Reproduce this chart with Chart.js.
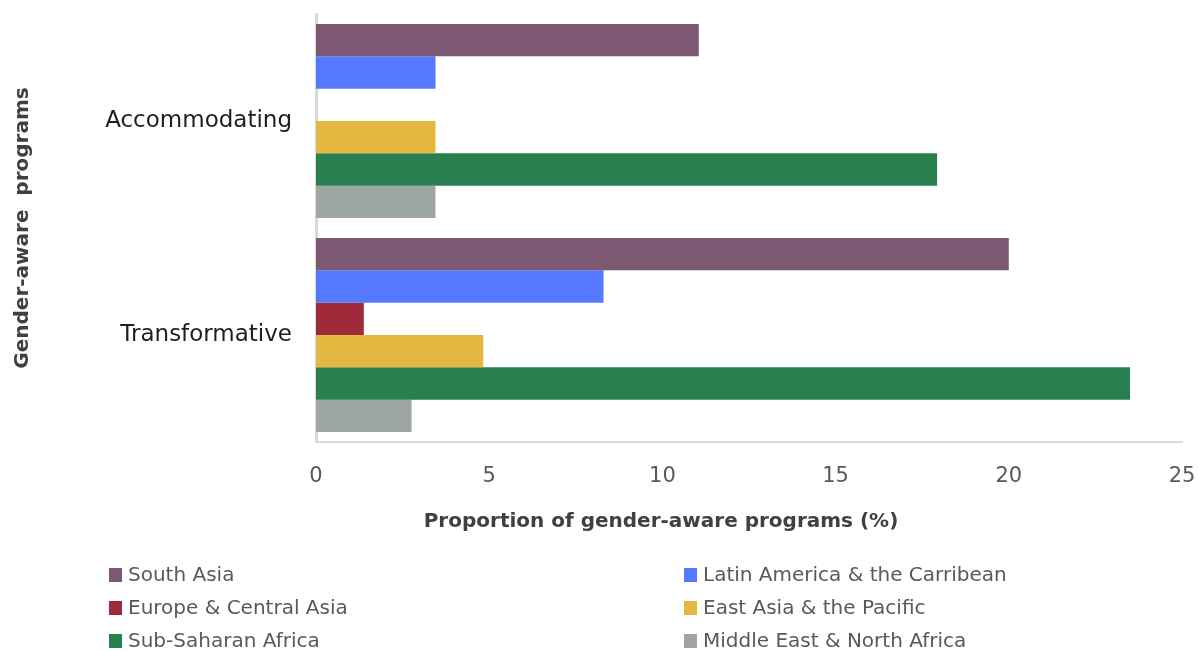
<!DOCTYPE html>
<html>
<head>
<meta charset="utf-8">
<script src="https://cdn.jsdelivr.net/npm/chart.js@4"></script>
<style>
	body { margin: 0; background: #fff; }
	#wrap { width: 1198px; height: 651px; }
</style>
</head>
<body>
<div id="wrap"><canvas id="myChart" width="1198" height="651"></canvas></div>
<script>
var categories = ['Accommodating', 'Transformative'];
var regions = ['South Asia', 'Latin America & the Carribean', 'Europe & Central Asia',
	'East Asia & the Pacific', 'Sub-Saharan Africa', 'Middle East & North Africa'];
var southAsia = [11.05, 20.0];
var latinAmerica = [3.45, 8.3];
var europeCentralAsia = [0, 1.38];
var eastAsiaPacific = [3.45, 4.83];
var subSaharanAfrica = [17.93, 23.5];
var middleEastNorthAfrica = [3.45, 2.76];
var xTicks = [0, 5, 10, 15, 20, 25];
var colors = ['#7d5873', '#5479fe', '#a0293a', '#e3b841', '#28804f', '#9ea6a4'];

var seriesValues = [southAsia, latinAmerica, europeCentralAsia, eastAsiaPacific, subSaharanAfrica, middleEastNorthAfrica];

// legend in two columns + x title off centre, drawn by hand
var extrasPlugin = {
	id: 'extras',
	afterDraw: function (chart) {
		var ctx = chart.ctx;
		ctx.save();
		ctx.font = '20px "DejaVu Sans"';
		ctx.textBaseline = 'middle';
		ctx.textAlign = 'left';
		chart.data.datasets.forEach(function (ds, i) {
			var col = i % 2;
			var row = Math.floor(i / 2);
			var sx = col === 0 ? 109 : 684;
			var y = 575 + row * 33;
			ctx.fillStyle = ds.backgroundColor;
			ctx.fillRect(sx, y - 7, 13, 14);
			ctx.fillStyle = '#595959';
			ctx.fillText(ds.label, sx + 19, y + 1);
		});
		ctx.font = 'bold 20px "DejaVu Sans"';
		ctx.fillStyle = '#404040';
		ctx.textAlign = 'center';
		ctx.fillText('Proportion of gender-aware programs (%)', 661, 522);
		ctx.restore();
	}
};

document.addEventListener("DOMContentLoaded", function (event) {
	var ctx = document.getElementById('myChart');
	var myChart = new Chart(ctx, {
		type: 'bar',
		data: {
			labels: categories,
			datasets: regions.map(function (name, i) {
				return {
					label: name,
					data: seriesValues[i],
					backgroundColor: colors[i],
					borderWidth: 0,
					categoryPercentage: 0.907,
					barPercentage: 1.0
				};
			})
		},
		options: {
			indexAxis: 'y',
			responsive: false,
			animation: false,
			layout: { padding: { top: 14, right: 16, left: 0, bottom: 0 } },
			plugins: {
				legend: { display: false },
				tooltip: { enabled: false }
			},
			scales: {
				x: {
					min: 0,
					max: 25,
					afterBuildTicks: function (scale) {
						scale.ticks = xTicks.map(function (v) { return { value: v }; });
					},
					afterFit: function (scale) {
						scale.height = 209;
						scale.paddingLeft = 0;
						scale.paddingRight = 0;
					},
					grid: { display: false, drawTicks: false },
					border: { color: '#d9d9d9', width: 2 },
					ticks: {
						padding: 22,
						color: '#595959',
						font: { family: 'DejaVu Sans', size: 21 }
					}
				},
				y: {
					afterFit: function (scale) {
						scale.width = 316;
						scale.paddingTop = 0;
						scale.paddingBottom = 0;
					},
					grid: { display: false, drawTicks: false },
					border: { color: '#d9d9d9', width: 3 },
					ticks: {
						padding: 24,
						color: '#1e1e1e',
						font: { family: 'DejaVu Sans', size: 23 }
					},
					title: {
						display: true,
						text: 'Gender-aware  programs',
						color: '#404040',
						font: { family: 'DejaVu Sans', size: 20, weight: 'bold' },
						padding: { top: 11, bottom: 0 }
					}
				}
			}
		},
		plugins: [extrasPlugin]
	});
});
</script>
</body>
</html>
